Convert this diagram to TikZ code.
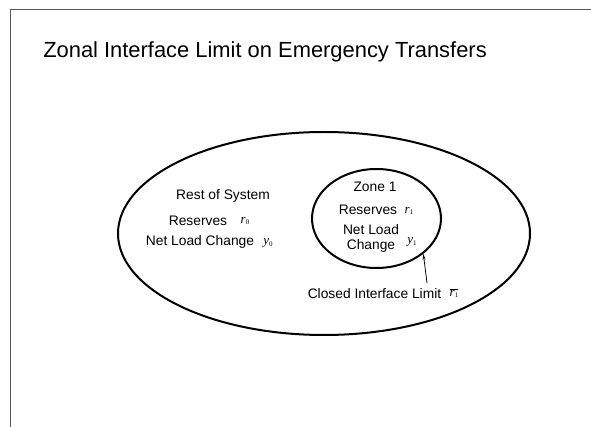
\documentclass[tikz,border=0pt]{standalone}
\usepackage{fontspec}
\setmainfont{Liberation Sans}
\newfontfamily\tms{Liberation Serif}
\usetikzlibrary{shapes.geometric, arrows.meta}

\newcommand{\varsym}[2]{{\tms\itshape #1}\raisebox{-1.5pt}{\tms\fontsize{7}{8}\selectfont #2}}

\begin{document}
\begin{tikzpicture}[x=1pt, y=-1pt,
  region/.style={draw, ellipse, line width=2pt, inner sep=0pt},
  lbl/.style={font=\fontsize{13.8}{15}\selectfont, inner sep=0pt},
  sym/.style={font=\fontsize{13}{14}\selectfont, inner sep=0pt}]
  \useasboundingbox (0,0) rectangle (591,427);
  % slide frame
  \coordinate (fb) at (10.5,427);
  \coordinate (fc) at (10.5,9.5);
  \coordinate (fr) at (591,9.5);
  \draw[gray!70!black, line width=1.4pt] (fb) -- (fc) -- (fr);

  \node[inner sep=0pt, font=\fontsize{21.9}{24}\selectfont] (title) at (265,52)
    {Zonal Interface Limit on Emergency Transfers};

  % regions
  \node[region, minimum width=412pt, minimum height=203pt] (sys) at (324,233.5) {};
  \node[region, minimum width=129pt, minimum height=99pt] (zone) at (376.5,218.5) {};

  % rest of system
  \node[lbl] (rest) at (223,196) {Rest of System};
  \node[lbl] (res0) at (198,221) {Reserves};
  \node[sym] (r0) at (245,221) {\varsym{r}{0}};
  \node[lbl] (load0) at (200,242) {Net Load Change};
  \node[sym] (y0) at (268,243) {\varsym{y}{0}};

  % zone 1
  \node[lbl] (zname) at (375,187) {Zone 1};
  \node[lbl] (res1) at (368,210) {Reserves};
  \node[sym] (r1) at (409,211) {\varsym{r}{1}};
  \node[lbl, align=center] (load1) at (371,238) {Net Load\\Change};
  \node[sym] (y1) at (412,242) {\varsym{y}{1}};

  % interface limit
  \node[lbl] (limit) at (374.5,294) {Closed Interface Limit};
  \node[sym] (rbar) at (454,293) {$\overline{\mbox{\varsym{r}{1}}}$};
  \coordinate (ltail) at (427,283);
  \draw[-{Stealth[length=6pt, width=3pt]}, line width=0.8pt] (ltail) -- (zone.-37);
\end{tikzpicture}
\end{document}
